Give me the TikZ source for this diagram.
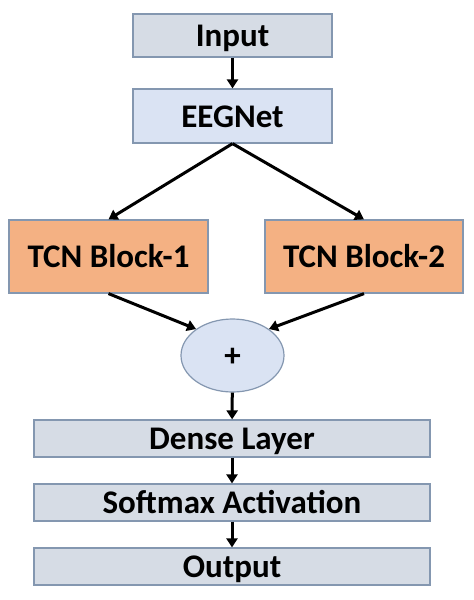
\documentclass[tikz,border=0pt]{standalone}
\usepackage{fontspec}
\setmainfont{Carlito}
\usetikzlibrary{arrows.meta,shapes.geometric}
\definecolor{boxgray}{HTML}{D6DCE5}
\definecolor{boxblue}{HTML}{DAE3F3}
\definecolor{boxorange}{HTML}{F4B183}
\definecolor{edgeblue}{HTML}{8497B0}
\begin{document}
\begin{tikzpicture}[x=1pt,y=-1pt,
  blk/.style={draw=edgeblue,line width=1.2pt,inner sep=0pt,
    font=\fontsize{33}{36}\selectfont\bfseries,text height=22.5pt,text depth=0pt},
  arr/.style={line width=3pt,-{Triangle[length=9pt,width=11pt]}}]
\useasboundingbox (0,0) rectangle (474,600);
\node[blk,fill=boxgray,minimum width=199pt,minimum height=43pt] (in) at (232.5,35.5) {Input};
\node[blk,fill=boxblue,minimum width=199pt,minimum height=54pt] (eeg) at (232.5,116) {EEGNet};
\node[blk,fill=boxorange,minimum width=199pt,minimum height=73pt] (t1) at (108.5,256.5) {TCN Block-1};
\node[blk,fill=boxorange,minimum width=198pt,minimum height=73pt] (t2) at (364,256.5) {TCN Block-2};
\node[blk,ellipse,fill=boxblue,minimum width=103pt,minimum height=73pt] (plus) at (232.5,355.5) {+};
\node[blk,fill=boxgray,minimum width=396pt,minimum height=37pt] (dense) at (232,438.5) {Dense Layer};
\node[blk,fill=boxgray,minimum width=396pt,minimum height=37pt] (soft) at (232,502.5) {Softmax Activation};
\node[blk,fill=boxgray,minimum width=396pt,minimum height=37pt] (out) at (232,566.5) {Output};
\draw[arr] (in) -- (eeg);
\draw[arr] (eeg.south) -- (t1.north);
\draw[arr] (eeg.south) -- (t2.north);
\draw[arr] (t1.south) -- (plus.144);
\draw[arr] (t2.south) -- (plus.36);
\draw[arr] (plus) -- (dense);
\draw[arr] (dense) -- (soft);
\draw[arr] (soft) -- (out);
\end{tikzpicture}
\end{document}
